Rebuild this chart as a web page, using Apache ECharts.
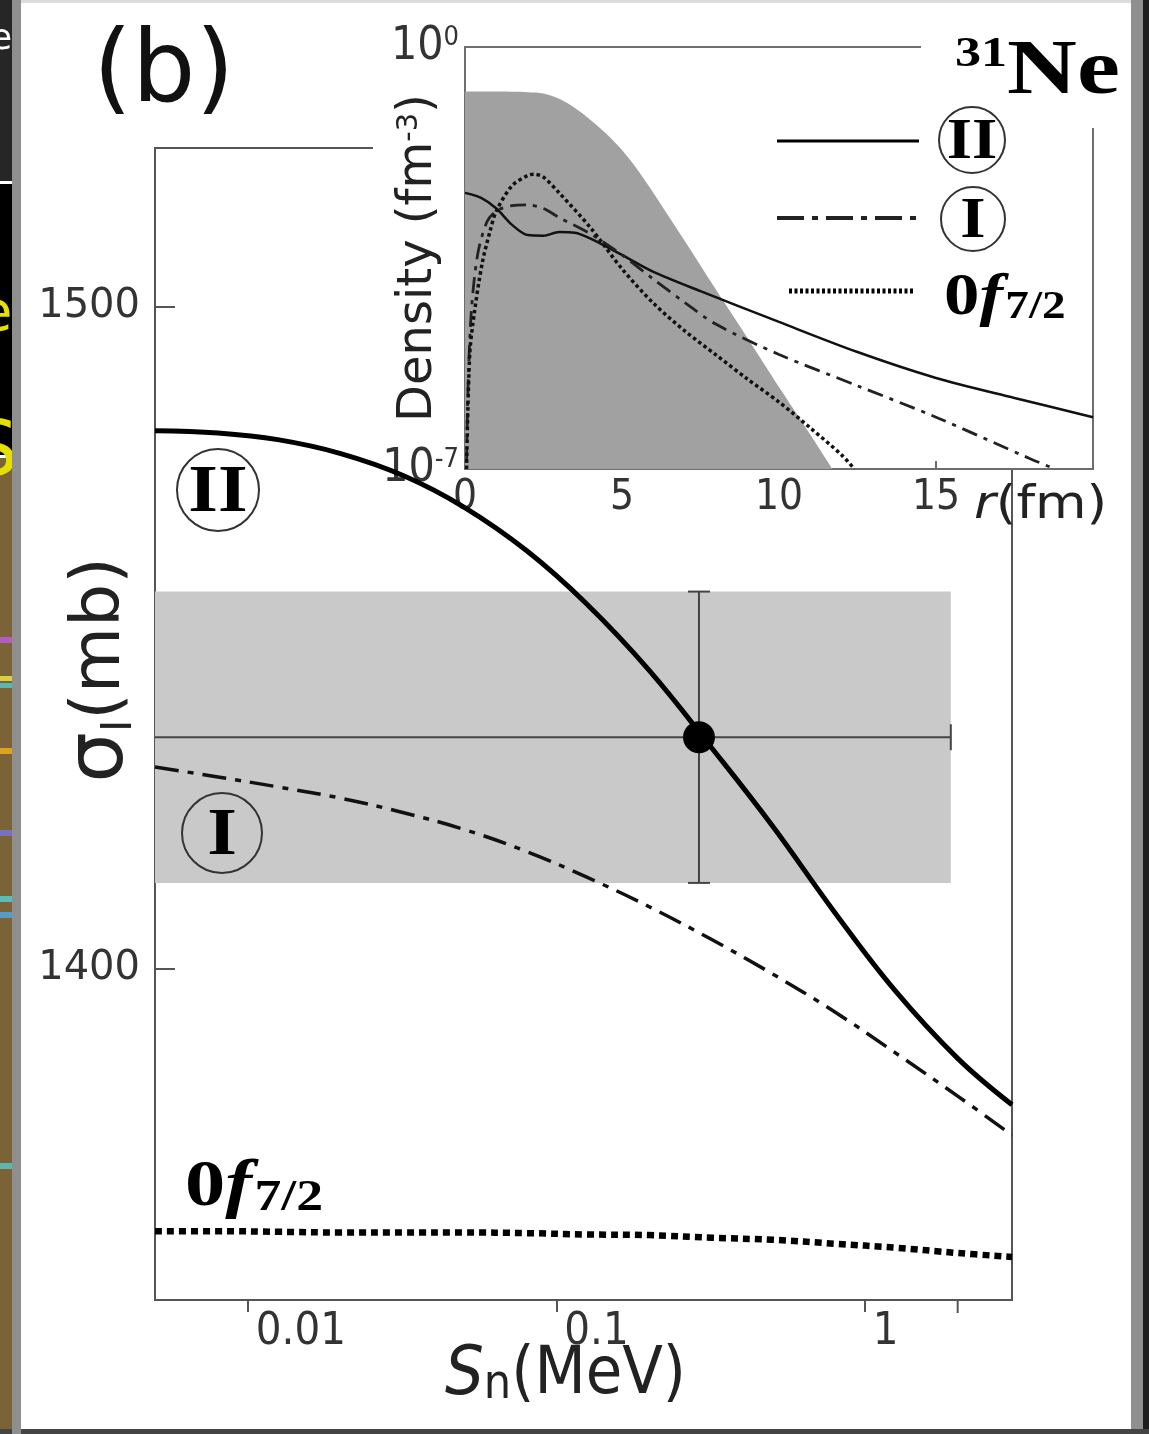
<!DOCTYPE html>
<html><head><meta charset="utf-8">
<script src="https://cdn.jsdelivr.net/npm/echarts@6/dist/echarts.min.js"></script>
<style>html,body{margin:0;padding:0;background:#fff}#c{width:1149px;height:1434px}</style>
</head><body><div id="c"></div>
<script>
// ---------- main panel: interaction cross section vs Sn ----------
const snMeV    = [0.005, 0.008, 0.0125, 0.02, 0.032, 0.05, 0.08, 0.125, 0.2, 0.32, 0.5, 0.8, 1.25, 2, 3];
const sigmaII  = [1481.3, 1480.95, 1479.95, 1477.85, 1474.5, 1469.8, 1463.2, 1455.2, 1445.1, 1433.3, 1421.7, 1408.5, 1396.8, 1386.5, 1379.5];
const sigmaI   = [1430.5, 1429.0, 1427.5, 1425.8, 1423.6, 1421.1, 1417.75, 1413.9, 1409.4, 1404.4, 1399.3, 1393.5, 1387.4, 1380.8, 1374.9];
const sigmaF72 = [1360.4, 1360.4, 1360.3, 1360.2, 1360.2, 1360.2, 1360.1, 1359.9, 1359.8, 1359.4, 1359.1, 1358.5, 1357.9, 1357.1, 1356.5];
// experiment: [Sn, sigma, Sn low, Sn high, sigma low, sigma high]
const expPoint = [0.29, 1435, 0.005, 1.9, 1413, 1457];
const xTicksExtra = [2];
const yTickValues = [1400, 1500];

// ---------- inset: densities vs r ----------
const rFill    = [0, 1, 2, 2.5, 3, 3.5, 4, 4.5, 5, 5.5, 6, 6.5, 7, 8, 9, 10, 11, 11.7];
const densFill = [0.182, 0.182, 0.178, 0.170, 0.138, 0.0977, 0.0617, 0.0363, 0.0195, 0.00912, 0.0038, 0.00151, 6.03e-4, 9.3e-5, 1.48e-5, 2.29e-6, 3.7e-7, 1.0e-7];
const rII      = [0, 0.5, 1, 1.5, 2, 2.5, 3, 3.5, 4, 5, 6, 7.5, 10, 12.5, 15, 17.5, 20];
const densII   = [3.8e-3, 3.16e-3, 2.09e-3, 1.12e-3, 7.59e-4, 7.41e-4, 8.51e-4, 8.32e-4, 6.61e-4, 3.55e-4, 1.86e-4, 8.91e-5, 2.75e-5, 8.71e-6, 3.24e-6, 1.51e-6, 7.24e-7];
const rI       = [0.05, 0.1, 0.2, 0.4, 0.7, 1, 1.5, 2, 2.5, 3, 4, 5, 6, 7, 8, 10, 12.5, 15, 18, 18.8];
const densI    = [1.26e-7, 2.51e-6, 3.98e-5, 3.55e-4, 1.26e-3, 1.91e-3, 2.34e-3, 2.40e-3, 2.09e-3, 1.48e-3, 7.94e-4, 3.55e-4, 1.41e-4, 5.75e-5, 2.51e-5, 7.94e-6, 2.40e-6, 7.24e-7, 1.48e-7, 1.0e-7];
const rF       = [0.05, 0.15, 0.3, 0.55, 0.8, 1, 1.5, 2, 2.2, 2.5, 3, 4, 5, 6, 7, 8, 9, 10, 11, 12, 12.4];
const densF    = [1.0e-7, 7.94e-6, 3.98e-5, 2.63e-4, 8.91e-4, 1.91e-3, 5.01e-3, 7.41e-3, 7.76e-3, 6.92e-3, 3.80e-3, 1.0e-3, 2.09e-4, 5.62e-5, 1.95e-5, 7.76e-6, 3.09e-6, 1.29e-6, 4.79e-7, 1.70e-7, 1.0e-7];
const insetXTicks = [0, 5, 10, 15];

const SANS = '"DejaVu Sans", sans-serif';
const COND = '"DejaVu Sans Condensed", "DejaVu Sans", sans-serif';
const SERIF = '"Liberation Serif", "DejaVu Serif", serif';
const zip = (a, b) => a.map((v, i) => [v, b[i]]);

const chart = echarts.init(document.getElementById('c'), null, {renderer: 'canvas'});

function circled(cx, cy, r, label, fs, sx, z) {
  return {type: 'group', z: z, children: [
    {type: 'circle', shape: {cx: cx, cy: cy, r: r}, style: {fill: 'none', stroke: '#333', lineWidth: 2}, z: z},
    {type: 'text', x: cx, y: cy + 3, scaleX: sx, z: z + 1, style: {text: label, font: 'bold ' + fs + 'px ' + SERIF, fill: '#000', align: 'center', verticalAlign: 'middle'}}
  ]};
}
function orbitalText(x, y, big, small, sx, z) {
  return {type: 'text', x: x, y: y, scaleX: sx, z: z, style: {
    text: '{a|0}{f|f}{s|7/2}', align: 'left', verticalAlign: 'middle',
    rich: {
      a: {font: 'bold ' + big + 'px ' + SERIF, fill: '#000'},
      f: {font: 'italic bold ' + big + 'px ' + SERIF, fill: '#000'},
      s: {font: 'bold ' + small + 'px ' + SERIF, fill: '#000', verticalAlign: 'bottom', padding: [0, 0, 0, 2]}
    }}};
}

const option = {
  animation: false,
  backgroundColor: '#fff',
  grid: [
    {left: 155, top: 148, width: 857, height: 1152, show: true, borderColor: '#555', borderWidth: 2, outerBoundsMode: 'none', containLabel: false, z: 0},
    {left: 465, top: 47, width: 628, height: 422, show: true, borderColor: '#6e6e6e', borderWidth: 2, outerBoundsMode: 'none', containLabel: false, z: 2}
  ],
  xAxis: [
    {type: 'log', logBase: 10, gridIndex: 0, min: 0.005, max: 3,
     axisLine: {show: true, onZero: false, lineStyle: {color: '#555', width: 2}},
     axisTick: {show: true, inside: false, length: 12, lineStyle: {color: '#555', width: 2}},
     axisLabel: {show: true, showMinLabel: false, showMaxLabel: false, formatter: v => String(v),
                 fontFamily: COND, fontSize: 45, color: '#333', align: 'left', padding: [0, 0, 0, 8], margin: 10},
     splitLine: {show: false}, minorTick: {show: false},
     name: '{s|S}{sub|n}{n|(MeV)}', nameLocation: 'middle', nameGap: 42, nameMoveOverlap: false,
     nameTextStyle: {padding: [0, 36, 0, 0], rich: {
       s: {fontFamily: COND, fontSize: 68, color: '#222', fontStyle: 'italic'},
       sub: {fontFamily: COND, fontSize: 48, color: '#222', verticalAlign: 'bottom'},
       n: {fontFamily: COND, fontSize: 66, color: '#222'}}}},
    {type: 'value', gridIndex: 1, min: 0, max: 20, interval: 5, z: 3,
     axisLine: {show: true, onZero: false, lineStyle: {color: '#6e6e6e', width: 2}},
     axisTick: {show: true, inside: true, length: 8, lineStyle: {color: '#6e6e6e', width: 2}},
     axisLabel: {formatter: v => insetXTicks.indexOf(v) >= 0 ? String(v) : '', fontFamily: COND, fontSize: 42, color: '#333', margin: 8},
     splitLine: {show: false}}
  ],
  yAxis: [
    {type: 'value', gridIndex: 0, min: 1350, max: 1524,
     axisLine: {show: true, onZero: false, lineStyle: {color: '#555', width: 2}},
     axisTick: {show: true, inside: true, length: 20, customValues: yTickValues, lineStyle: {color: '#555', width: 2}},
     axisLabel: {show: true, customValues: yTickValues, formatter: v => String(v), fontFamily: SANS, fontSize: 40, color: '#333', margin: 15},
     splitLine: {show: false},
     name: '{s|σ}{sub|I}{n|(mb)}', nameLocation: 'middle', nameGap: 14, nameMoveOverlap: false,
     nameTextStyle: {padding: [0, 0, 0, 108], rich: {
       s: {fontFamily: SANS, fontSize: 80, color: '#222'},
       sub: {fontFamily: SANS, fontSize: 42, color: '#222', verticalAlign: 'bottom'},
       n: {fontFamily: SANS, fontSize: 68, color: '#222'}}}},
    {type: 'log', logBase: 10, gridIndex: 1, min: 1e-7, max: 1, z: 3,
     axisLine: {show: true, onZero: false, lineStyle: {color: '#6e6e6e', width: 2}},
     axisTick: {show: true, inside: true, length: 8, lineStyle: {color: '#6e6e6e', width: 2}},
     axisLabel: {margin: 6, formatter: v => {
         const e = Math.round(Math.log10(v));
         if (e === 0) return '{b|10}{s|0}';
         if (e === -7) return '{b|10}{s|-7}';
         return '';
       }, rich: {
         b: {fontFamily: COND, fontSize: 46, color: '#333'},
         s: {fontFamily: COND, fontSize: 27, color: '#333', verticalAlign: 'top'}}},
     splitLine: {show: false}, minorTick: {show: false},
     name: '{n|Density (fm}{s|-3}{n|)}', nameLocation: 'middle', nameGap: 22, nameMoveOverlap: false,
     nameTextStyle: {rich: {
       n: {fontFamily: SANS, fontSize: 48, color: '#222'},
       s: {fontFamily: SANS, fontSize: 29, color: '#222', verticalAlign: 'top'}}}}
  ],
  series: [
    {type: 'custom', name: 'band', xAxisIndex: 0, yAxisIndex: 0, z: 1, silent: true,
     data: [[expPoint[2], expPoint[3], expPoint[4], expPoint[5]]], encode: {x: [0, 1], y: [2, 3]},
     renderItem: (params, api) => {
       const p1 = api.coord([api.value(0), api.value(3)]);
       const p2 = api.coord([api.value(1), api.value(2)]);
       return {type: 'rect', shape: {x: p1[0], y: p1[1], width: p2[0] - p1[0], height: p2[1] - p1[1]}, style: {fill: '#c9c9c9'}};
     }},
    {type: 'line', name: 'II', xAxisIndex: 0, yAxisIndex: 0, z: 3, data: zip(snMeV, sigmaII), smooth: 0.4, symbol: 'none',
     lineStyle: {color: '#000', width: 5}},
    {type: 'line', name: 'I', xAxisIndex: 0, yAxisIndex: 0, z: 3, data: zip(snMeV, sigmaI), smooth: 0.4, symbol: 'none',
     lineStyle: {color: '#111', width: 3.5, type: [24, 9, 6, 9]}},
    {type: 'line', name: '0f7/2', xAxisIndex: 0, yAxisIndex: 0, z: 3, data: zip(snMeV, sigmaF72), smooth: 0.4, symbol: 'none',
     lineStyle: {color: '#000', width: 6.5, type: [7, 5], cap: 'butt'}},
    {type: 'custom', name: 'error', xAxisIndex: 0, yAxisIndex: 0, z: 4, silent: true,
     data: [expPoint], encode: {x: 0, y: 1},
     renderItem: (params, api) => {
       const x = api.value(0), y = api.value(1);
       const pL = api.coord([api.value(2), y]), pR = api.coord([api.value(3), y]);
       const pT = api.coord([x, api.value(5)]), pB = api.coord([x, api.value(4)]);
       const st = {stroke: '#444', lineWidth: 2};
       return {type: 'group', children: [
         {type: 'line', shape: {x1: pL[0], y1: pL[1], x2: pR[0], y2: pR[1]}, style: st},
         {type: 'line', shape: {x1: pR[0], y1: pR[1] - 13, x2: pR[0], y2: pR[1] + 13}, style: st},
         {type: 'line', shape: {x1: pT[0], y1: pT[1], x2: pB[0], y2: pB[1]}, style: st},
         {type: 'line', shape: {x1: pT[0] - 11, y1: pT[1], x2: pT[0] + 11, y2: pT[1]}, style: st},
         {type: 'line', shape: {x1: pB[0] - 11, y1: pB[1], x2: pB[0] + 11, y2: pB[1]}, style: st}
       ]};
     }},
    {type: 'scatter', name: 'exp', xAxisIndex: 0, yAxisIndex: 0, z: 5, data: [[expPoint[0], expPoint[1]]],
     symbol: 'circle', symbolSize: 32, itemStyle: {color: '#000', opacity: 1}},
    {type: 'scatter', name: 'tick', xAxisIndex: 0, yAxisIndex: 0, z: 5, silent: true, clip: false,
     data: xTicksExtra.map(v => [v, 1350]), symbol: 'rect', symbolSize: [2, 12], symbolOffset: [0, 7], itemStyle: {color: '#555', opacity: 1}},
    // inset
    {type: 'line', name: 'total', xAxisIndex: 1, yAxisIndex: 1, z: 4, data: zip(rFill, densFill), smooth: 0.3,
     symbol: 'none', lineStyle: {width: 0}, areaStyle: {color: '#a1a1a1', opacity: 1, origin: 'start'}},
    {type: 'line', name: 'II r', xAxisIndex: 1, yAxisIndex: 1, z: 5, data: zip(rII, densII), smooth: 0.3,
     symbol: 'none', lineStyle: {color: '#111', width: 2.5}},
    {type: 'line', name: 'I r', xAxisIndex: 1, yAxisIndex: 1, z: 5, data: zip(rI, densI), smooth: 0.3,
     symbol: 'none', lineStyle: {color: '#222', width: 2.8, type: [16, 7, 4, 7]}},
    {type: 'line', name: 'f r', xAxisIndex: 1, yAxisIndex: 1, z: 5, data: zip(rF, densF), smooth: 0.3,
     symbol: 'none', lineStyle: {color: '#111', width: 3.5, type: [3.5, 3], cap: 'butt'}}
  ],
  graphic: {elements: [
    {type: 'rect', z: 1, shape: {x: 373, y: 0, width: 770, height: 469}, style: {fill: '#fff'}},
    {type: 'rect', z: 6, shape: {x: 921, y: 0, width: 215, height: 128}, style: {fill: '#fff'}},
    {type: 'text', z: 8, x: 93, y: 25, style: {text: '(b)', font: '100px ' + SANS, fill: '#111', align: 'left', verticalAlign: 'top'}},
    {type: 'text', z: 8, x: 955, y: 112, scaleX: 1.24, style: {text: '{s|31}{n|Ne}', align: 'left', verticalAlign: 'bottom', rich: {
      s: {font: 'bold 42px ' + SERIF, fill: '#000', verticalAlign: 'top'},
      n: {font: 'bold 78px ' + SERIF, fill: '#000'}}}},
    // legend
    {type: 'line', z: 8, shape: {x1: 777, y1: 141, x2: 919, y2: 141}, style: {stroke: '#000', lineWidth: 3}},
    {type: 'line', z: 8, shape: {x1: 777, y1: 218, x2: 919, y2: 218}, style: {stroke: '#222', lineWidth: 4, lineDash: [27, 8, 6, 8]}},
    {type: 'line', z: 8, shape: {x1: 789, y1: 291, x2: 914, y2: 291}, style: {stroke: '#000', lineWidth: 5, lineDash: [3, 2.5]}},
    circled(972, 140, 33, 'II', 58, 1.12, 8),
    circled(973, 219, 32, 'I', 58, 1.12, 8),
    orbitalText(944, 298, 60, 40, 1.18, 8),
    {type: 'text', z: 8, x: 974, y: 506, scaleX: 1.15, style: {text: '{i|r}{n|(fm)}', align: 'left', verticalAlign: 'middle', rich: {
      i: {font: 'italic 46px ' + SANS, fill: '#222'}, n: {font: '46px ' + SANS, fill: '#222'}}}},
    // main annotations
    circled(218, 490, 41, 'II', 68, 1.12, 8),
    circled(222, 833, 40, 'I', 68, 1.12, 8),
    orbitalText(185, 1188, 66, 44, 1.22, 8),
    // page edge decorations
    {type: 'rect', z: 20, shape: {x: 0, y: 0, width: 12, height: 181}, style: {fill: '#262626'}},
    {type: 'rect', z: 20, shape: {x: 0, y: 184, width: 12, height: 271}, style: {fill: '#000'}},
    {type: 'rect', z: 20, shape: {x: 0, y: 458, width: 12, height: 976}, style: {fill: '#7a6437'}},
    {type: 'text', z: 21, x: -10, y: 40, style: {text: 'e', font: '36px ' + SANS, fill: '#fff', verticalAlign: 'middle'}},
    {type: 'text', z: 21, x: -22, y: 315, style: {text: 'e', font: '56px ' + SANS, fill: '#e6e000', verticalAlign: 'middle'}},
    {type: 'text', z: 21, x: -30, y: 455, style: {text: 'S', font: '76px ' + SANS, fill: '#e6e000', verticalAlign: 'middle'}},
    {type: 'rect', z: 21, shape: {x: 0, y: 637, width: 12, height: 6}, style: {fill: '#b45cc2'}},
    {type: 'rect', z: 21, shape: {x: 0, y: 676, width: 12, height: 5}, style: {fill: '#d8d040'}},
    {type: 'rect', z: 21, shape: {x: 0, y: 683, width: 12, height: 5}, style: {fill: '#5ab8b0'}},
    {type: 'rect', z: 21, shape: {x: 0, y: 748, width: 12, height: 6}, style: {fill: '#e0a020'}},
    {type: 'rect', z: 21, shape: {x: 0, y: 830, width: 12, height: 6}, style: {fill: '#7a70c0'}},
    {type: 'rect', z: 21, shape: {x: 0, y: 896, width: 12, height: 6}, style: {fill: '#5bbcb5'}},
    {type: 'rect', z: 21, shape: {x: 0, y: 912, width: 12, height: 6}, style: {fill: '#5a9ac8'}},
    {type: 'rect', z: 21, shape: {x: 0, y: 1163, width: 12, height: 6}, style: {fill: '#5ab8b0'}},
    {type: 'rect', z: 21, shape: {x: 12, y: 0, width: 9, height: 1434}, style: {fill: '#8f8f8f'}},
    {type: 'rect', z: 20, shape: {x: 1131, y: 0, width: 12, height: 1434}, style: {fill: '#8f8f8f'}},
    {type: 'rect', z: 20, shape: {x: 1143, y: 0, width: 6, height: 1434}, style: {fill: '#1e1e1e'}},
    {type: 'rect', z: 20, shape: {x: 0, y: 1429, width: 1149, height: 5}, style: {fill: '#444'}},
    {type: 'rect', z: 19, shape: {x: 21, y: 0, width: 1110, height: 3}, style: {fill: '#dcdcdc'}}
  ]}
};
chart.setOption(option);
</script>
</body></html>
